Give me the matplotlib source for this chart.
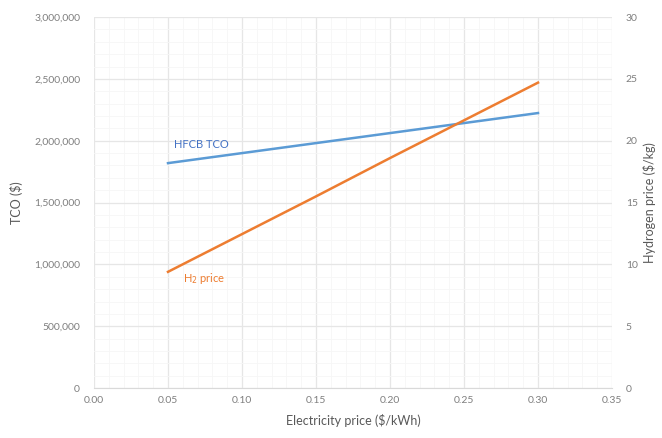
import matplotlib
matplotlib.use("Agg")
import matplotlib.pyplot as plt
from matplotlib.ticker import FuncFormatter, MultipleLocator

plt.rcParams['font.family'] = ['Lato', 'DejaVu Sans']

elec_price = [0.05, 0.10, 0.15, 0.20, 0.25, 0.30]
tco = [1819000, 1900000, 1981000, 2062000, 2143000, 2224000]
h2_price = [9.4, 12.45, 15.5, 18.6, 21.65, 24.7]

blue = '#5B9BD5'
orange = '#ED7D31'
grey = '#7f7f7f'
gridc = '#e6e6e6'

fig = plt.figure(figsize=(6.62, 4.38), dpi=100)
ax = fig.add_axes([0.142, 0.114, 0.7825, 0.847])
ax2 = ax.twinx()

ax.plot(elec_price, tco, color=blue, lw=1.8)
ax2.plot(elec_price, h2_price, color=orange, lw=1.8)

ax.set_xlim(0, 0.35)
ax.set_ylim(0, 3000000)
ax2.set_ylim(0, 30)
ax.xaxis.set_major_locator(MultipleLocator(0.05))
ax.xaxis.set_minor_locator(MultipleLocator(0.01))
ax.yaxis.set_major_locator(MultipleLocator(500000))
ax.yaxis.set_minor_locator(MultipleLocator(100000))
ax2.yaxis.set_major_locator(MultipleLocator(5))
ax.yaxis.set_major_formatter(FuncFormatter(lambda v, p: f'{int(v):,}'))
ax.xaxis.set_major_formatter(FuncFormatter(lambda v, p: f'{v:.2f}'))

ax.grid(which='major', color=gridc, lw=0.9)
ax.grid(which='minor', color='#f6f6f6', lw=0.6)
ax.set_axisbelow(True)

for a in (ax, ax2):
    for s in a.spines.values():
        s.set_visible(False)
    a.tick_params(which='both', length=0, labelsize=7.5, labelcolor=grey)
ax.spines['bottom'].set_visible(True)
ax.spines['bottom'].set_color('#d9d9d9')
ax.tick_params(axis='x', pad=6)
ax.tick_params(axis='y', pad=10)
ax2.tick_params(axis='y', pad=10)

ax.set_xlabel('Electricity price ($/kWh)', fontsize=9, color='#595959', labelpad=6)
ax.set_ylabel('TCO ($)', fontsize=9, color='#595959', labelpad=8)
ax2.set_ylabel('Hydrogen price ($/kg)', fontsize=9, color='#595959', labelpad=4)

ax.text(0.054, 1940000, 'HFCB TCO', color='#4472C4', fontsize=8)
ax2.text(0.06, 8.6, 'H$_2$ price', color=orange, fontsize=8)

fig.savefig('out.png', dpi=100)
